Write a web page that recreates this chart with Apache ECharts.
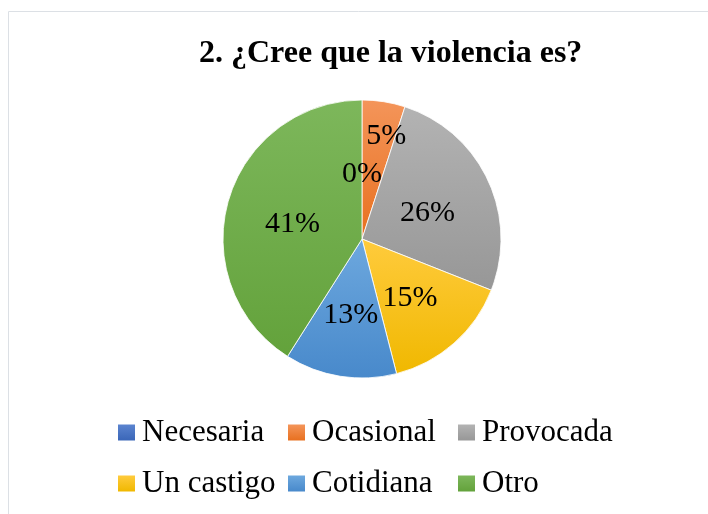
<!DOCTYPE html>
<html><head><meta charset="utf-8">
<script src="https://cdn.jsdelivr.net/npm/echarts@6/dist/echarts.min.js"></script>
<style>html,body{margin:0;padding:0;background:#fff}#c{width:708px;height:514px}</style>
</head><body><div id="c"></div>
<script>
const titleText = '2. ¿Cree que la violencia es?';
const categories = ['Necesaria', 'Ocasional', 'Provocada', 'Un castigo', 'Cotidiana', 'Otro'];
const percents = [0, 5, 26, 15, 13, 41];
const topColors = ['#5B84CF', '#F4955A', '#B3B3B3', '#FFCB3D', '#6DA8DE', '#7DB75B'];
const bottomColors = ['#3A66B8', '#E8701F', '#979797', '#F0B800', '#4889CB', '#63A23B'];

const serif = '"Liberation Serif", "Times New Roman", serif';
const data = categories.map((name, i) => ({
  name, value: percents[i],
  itemStyle: { color: { type: 'linear', x: 0, y: 0, x2: 0, y2: 1,
    colorStops: [{ offset: 0, color: topColors[i] }, { offset: 1, color: bottomColors[i] }] } }
}));

const chart = echarts.init(document.getElementById('c'), null, { renderer: 'canvas' });
chart.setOption({
  animation: false,
  graphic: [{ type: 'rect', shape: { x: 8.5, y: 11.5, width: 720, height: 520 },
    style: { fill: 'none', stroke: '#DCE0E5', lineWidth: 1 }, silent: true }],
  title: { text: titleText, left: 199, top: 38, padding: 0,
    textStyle: { fontFamily: serif, fontWeight: 'bold', fontSize: 32, color: '#000' } },
  legend: {
    data: categories, left: 118, top: 407, width: 520, itemGap: 0, padding: 0,
    icon: 'rect', itemWidth: 17, itemHeight: 16, selectedMode: false,
    itemStyle: { borderWidth: 0 },
    textStyle: { fontFamily: serif, fontSize: 31, color: '#000', width: 146, lineHeight: 51, padding: [0, 0, 0, 2] }
  },
  series: [{
    type: 'pie', center: [362, 239], radius: 139, startAngle: 90, clockwise: true,
    avoidLabelOverlap: false, minShowLabelAngle: 0,
    itemStyle: { borderColor: 'rgba(255,255,255,0.8)', borderWidth: 1 },
    label: { show: true, position: 'inside', formatter: '{c}%',
      fontFamily: serif, fontSize: 30, color: '#000' },
    labelLine: { show: false },
    labelLayout: function (p) {
      if (p.dataIndex === 1) return { dx: 13, dy: -31 };
      if (p.dataIndex === 0) return { dy: 8 };
      return { dy: 5 };
    },
    emphasis: { disabled: true },
    data: data
  }]
});
</script></body></html>
